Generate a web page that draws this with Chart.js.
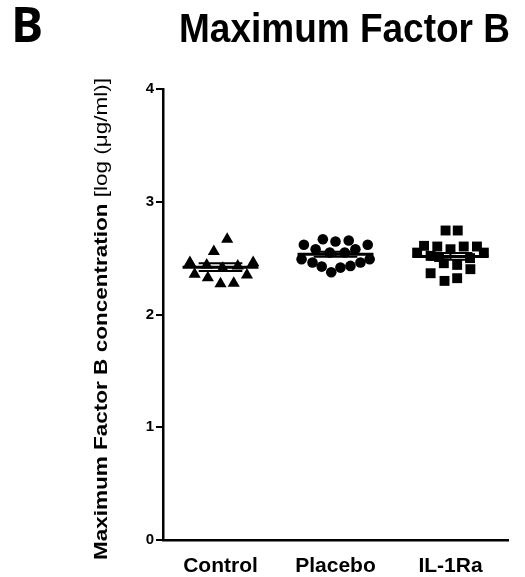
<!DOCTYPE html>
<html>
<head>
<meta charset="utf-8">
<script src="https://cdn.jsdelivr.net/npm/chart.js@4/dist/chart.umd.min.js"></script>
<style>
  html, body { margin: 0; padding: 0; background: #fff; }
  #wrap { position: relative; width: 525px; height: 577px; }
</style>
</head>
<body>
<div id="wrap"><canvas id="c" width="525" height="577"></canvas></div>
<script>
// ---- data ----
const categories = ['Control', 'Placebo', 'IL-1Ra'];
const yTickValues = [0, 1, 2, 3, 4];

const controlValues = [2.668, 2.558, 2.461, 2.461, 2.357, 2.327, 2.351, 2.272, 2.278, 2.44, 2.41, 2.43];
const controlJitter = [0.058, -0.058, -0.266, 0.284, -0.225, -0.11, 0.23, 0.0, 0.115, -0.12, 0.02, 0.15];

const placeboValues = [2.618, 2.668, 2.647, 2.656, 2.618, 2.579, 2.579, 2.491, 2.461, 2.425, 2.375, 2.416, 2.431, 2.461, 2.491, 2.55, 2.55];
const placeboJitter = [-0.275, -0.11, 0.0, 0.115, 0.28, -0.173, 0.173, -0.295, -0.2, -0.12, -0.037, 0.043, 0.13, 0.217, 0.297, -0.05, 0.08];

const il1raValues = [2.745, 2.745, 2.609, 2.603, 2.579, 2.603, 2.603, 2.549, 2.549, 2.52, 2.455, 2.44, 2.402, 2.366, 2.298, 2.322, 2.51, 2.50];
const il1raJitter = [-0.043, 0.063, -0.23, -0.115, 0.0, 0.115, 0.23, -0.29, 0.29, -0.173, -0.058, 0.058, 0.173, -0.173, -0.052, 0.058, -0.1, 0.17];

const groupMeans = [2.42, 2.535, 2.515];
const groupSEM = [0.035, 0.022, 0.03];

// ---- build datasets ----
function pts(values, jitter, gi) {
  return values.map((v, i) => ({ x: gi + 0.5 + jitter[i], y: v }));
}

const meanSemPlugin = {
  id: 'meanSem',
  afterDatasetsDraw(chart) {
    const { ctx, scales: { x, y } } = chart;
    ctx.save();
    ctx.strokeStyle = '#000';
    groupMeans.forEach((m, gi) => {
      const c = gi + 0.5;
      const yM = y.getPixelForValue(m);
      const yHi = y.getPixelForValue(m + groupSEM[gi]);
      const yLo = y.getPixelForValue(m - groupSEM[gi]);
      ctx.lineWidth = 3;
      ctx.beginPath();
      ctx.moveTo(x.getPixelForValue(c - 0.33), yM);
      ctx.lineTo(x.getPixelForValue(c + 0.33), yM);
      ctx.stroke();
      ctx.lineWidth = 2;
      ctx.beginPath();
      ctx.moveTo(x.getPixelForValue(c), yHi);
      ctx.lineTo(x.getPixelForValue(c), yLo);
      ctx.moveTo(x.getPixelForValue(c - 0.19), yHi);
      ctx.lineTo(x.getPixelForValue(c + 0.19), yHi);
      ctx.moveTo(x.getPixelForValue(c - 0.19), yLo);
      ctx.lineTo(x.getPixelForValue(c + 0.19), yLo);
      ctx.stroke();
    });
    ctx.restore();
  }
};

const textPlugin = {
  id: 'texts',
  afterDraw(chart) {
    const ctx = chart.ctx;
    ctx.save();
    ctx.fillStyle = '#000';
    ctx.textBaseline = 'alphabetic';
    ctx.textAlign = 'left';
    // panel letter
    ctx.font = 'bold 48px "Open Sans", "Liberation Sans", sans-serif';
    ctx.fillText('B', 11, 42);
    // title (slightly taller, as in the reference)
    ctx.save();
    ctx.translate(179, 42);
    ctx.scale(1, 1.08);
    ctx.font = 'bold 37px "Liberation Sans", Arial, sans-serif';
    ctx.fillText('Maximum Factor B', 0, 0);
    ctx.restore();
    // y axis title (mixed weights), stretched along its length
    const boldPart = 'Maximum Factor B concentration ';
    const normPart = '[log (μg/ml)]';
    const bFont = 'bold 18px "Liberation Sans", Arial, sans-serif';
    const nFont = '18px "Liberation Sans", Arial, sans-serif';
    ctx.font = bFont; const wb = ctx.measureText(boldPart).width;
    ctx.font = nFont; const wn = ctx.measureText(normPart).width;
    const total = wb + wn;
    const targetLen = 482;
    const s = targetLen / total;
    ctx.translate(107, 319);
    ctx.rotate(-Math.PI / 2);
    ctx.scale(s, 1);
    ctx.font = bFont;
    ctx.fillText(boldPart, -total / 2, 0);
    ctx.font = nFont;
    ctx.fillText(normPart, -total / 2 + wb, 0);
    ctx.restore();
  }
};

new Chart(document.getElementById('c'), {
  type: 'scatter',
  data: {
    datasets: [
      { label: categories[0], data: pts(controlValues, controlJitter, 0), pointStyle: 'triangle', pointRadius: 7, backgroundColor: '#000', borderColor: '#000', borderWidth: 0 },
      { label: categories[1], data: pts(placeboValues, placeboJitter, 1), pointStyle: 'circle', pointRadius: 5.3, backgroundColor: '#000', borderColor: '#000', borderWidth: 0 },
      { label: categories[2], data: pts(il1raValues, il1raJitter, 2), pointStyle: 'rect', pointRadius: 7, backgroundColor: '#000', borderColor: '#000', borderWidth: 0 }
    ]
  },
  options: {
    responsive: false,
    devicePixelRatio: 1,
    animation: false,
    layout: { padding: { left: 0, top: 89, right: 17, bottom: 0 } },
    plugins: { legend: { display: false }, tooltip: { enabled: false }, title: { display: false } },
    scales: {
      x: {
        type: 'linear',
        min: 0, max: 3,
        afterBuildTicks: (scale) => { scale.ticks = categories.map((c, i) => ({ value: i + 0.5 })); },
        afterFit: (scale) => { scale.height = 37; },
        grid: { display: false, drawTicks: false },
        border: { display: true, color: '#000', width: 2.5 },
        ticks: {
          autoSkip: false, maxRotation: 0, padding: 14,
          color: '#000',
          font: { family: '"Liberation Sans", Arial, sans-serif', size: 21, weight: 'bold' },
          callback: (v, i) => categories[i]
        }
      },
      y: {
        min: 0, max: 4,
        afterBuildTicks: (scale) => { scale.ticks = yTickValues.map(v => ({ value: v })); },
        afterFit: (scale) => { scale.width = 163; },
        grid: { drawOnChartArea: false, drawTicks: true, tickLength: 7, color: '#000', lineWidth: 2 },
        border: { display: true, color: '#000', width: 2.5 },
        ticks: {
          padding: 2, color: '#000',
          font: { family: '"Liberation Sans", Arial, sans-serif', size: 15, weight: 'bold' },
          callback: (v) => String(v)
        }
      }
    }
  },
  plugins: [meanSemPlugin, textPlugin]
});
</script>
</body>
</html>
